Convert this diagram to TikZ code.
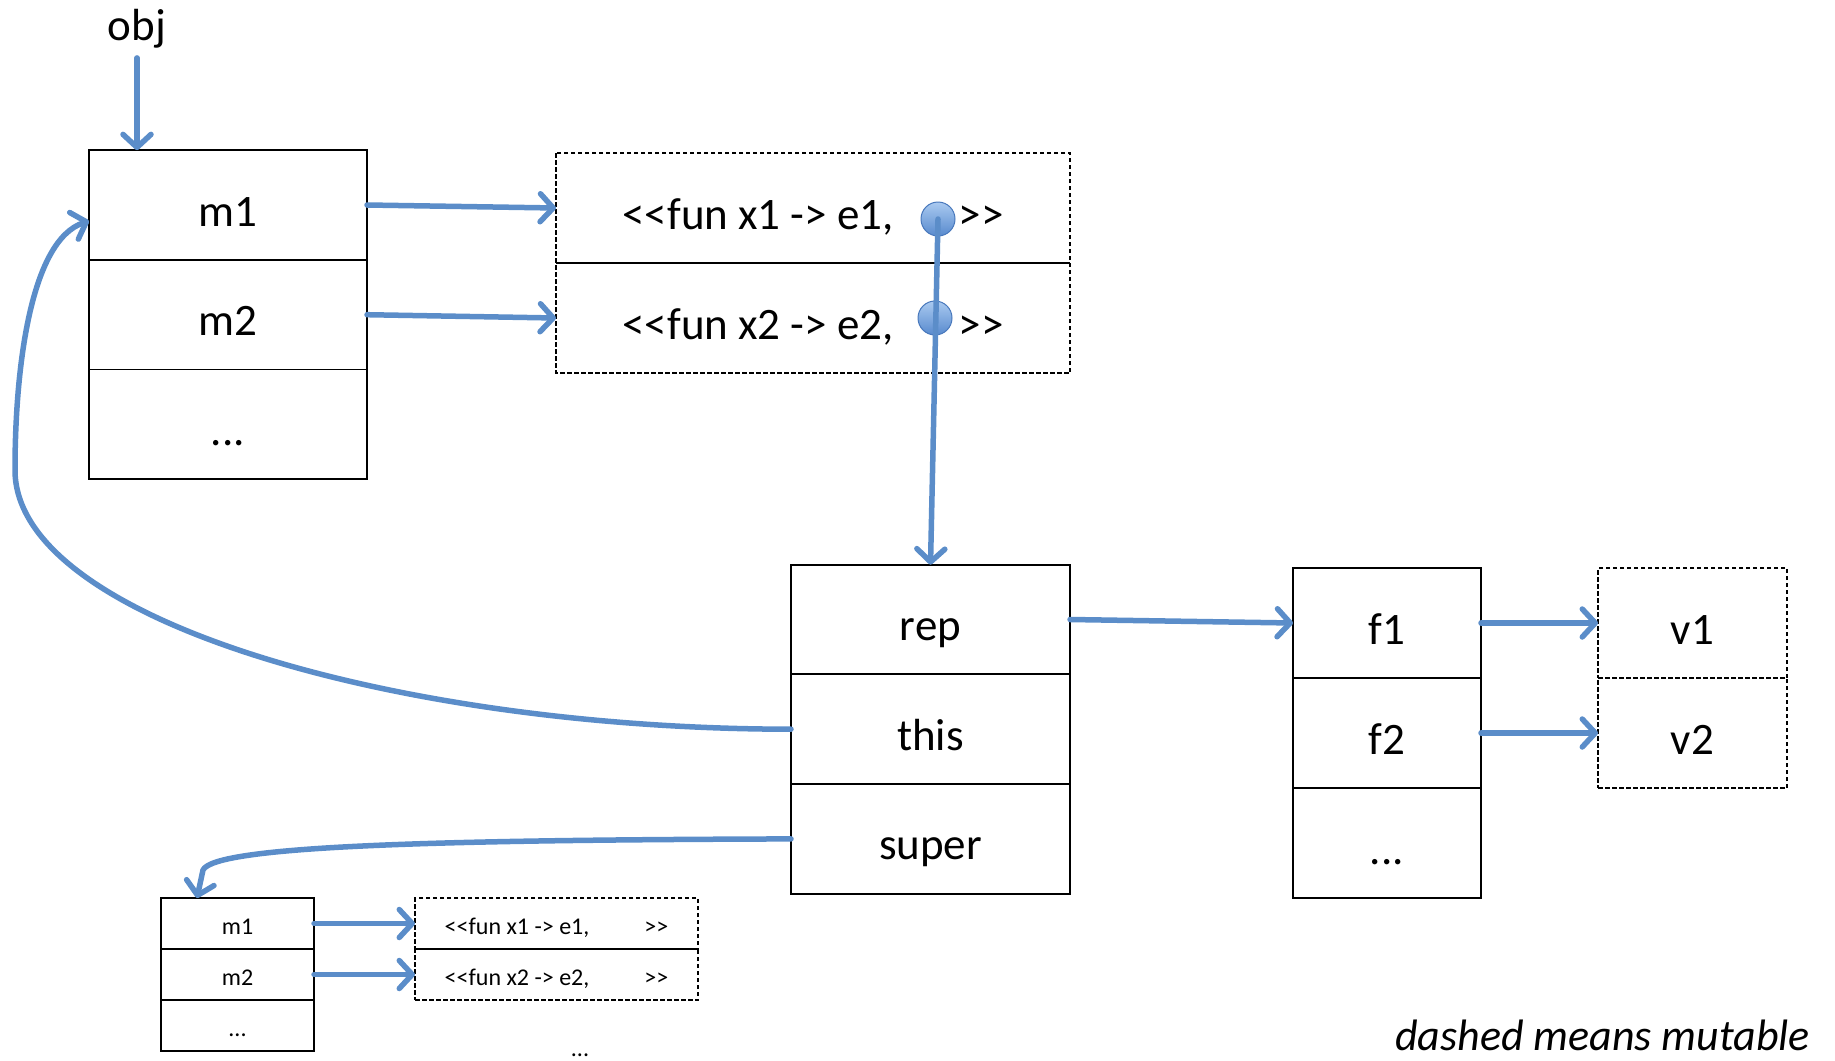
\documentclass[tikz,border=0pt]{standalone}
\usepackage{fontspec}
\setmainfont{Carlito}
\usetikzlibrary{arrows.meta}
\definecolor{linkblue}{RGB}{91,141,201}
\definecolor{dottop}{RGB}{170,202,240}
\definecolor{dotbot}{RGB}{88,138,206}
\definecolor{dotrim}{RGB}{72,120,188}
\begin{document}
\begin{tikzpicture}[x=1pt,y=-1pt,
  bigtext/.style={font=\fontsize{45}{52}\selectfont, text height=42pt, text depth=0pt},
  smalltext/.style={font=\fontsize{24}{28}\selectfont, text height=22pt, text depth=0pt},
  cell/.style={inner sep=0pt, outer sep=0pt, line width=1.8pt},
  solidcell/.style={cell, draw},
  mutcell/.style={cell, draw, dash pattern=on 4.5pt off 2.5pt, line width=1.6pt},
  bigA/.style={minimum width=278pt, minimum height=109.7pt, bigtext},
  bigB/.style={minimum width=514pt, minimum height=110pt, bigtext},
  bigC/.style={minimum width=279pt, minimum height=109.7pt, bigtext},
  bigD/.style={minimum width=188pt, minimum height=110pt, bigtext},
  bigE/.style={minimum width=189pt, minimum height=110pt, bigtext},
  smallF/.style={minimum width=153pt, minimum height=51pt, smalltext},
  smallG/.style={minimum width=283pt, minimum height=51pt, smalltext},
  link/.style={draw=linkblue, line width=5.5pt, line cap=round, line join=round,
    -{Straight Barb[length=13pt,width=28pt,round]}},
  valdot/.style={circle, minimum size=34pt, inner sep=0pt, top color=dottop, bottom color=dotbot, draw=dotrim, line width=1pt},
]
\useasboundingbox (0,0) rectangle (1835,1060);

% label
\node[font=\fontsize{45}{52}\selectfont, anchor=base, inner sep=2pt] (obj) at (137,40) {obj};

% object method table
\node[solidcell, bigA] (a1) at (228,205) {m1};
\node[solidcell, bigA] (a2) at (228,314.7) {m2};
\node[solidcell, bigA] (a3) at (228,424.4) {...};

% closures (mutable)
\node[cell, bigB] (b1) at (813,208) {<{}<fun x1 -{}> e1,\hspace{65pt}>{}>};
\node[cell, bigB] (b2) at (813,318) {<{}<fun x2 -{}> e2,\hspace{65pt}>{}>};
\draw[line width=1.6pt, dash pattern=on 4.5pt off 2.5pt] (b1.north west) rectangle (b2.south east);
\draw[line width=1.8pt] (b1.south west) -- (b1.south east);

% self record
\node[solidcell, bigC] (c1) at (930.5,619.5) {rep};
\node[solidcell, bigC] (c2) at (930.5,729.2) {this};
\node[solidcell, bigC] (c3) at (930.5,838.9) {super};

% fields
\node[solidcell, bigD] (d1) at (1387,623) {f1};
\node[solidcell, bigD] (d2) at (1387,733) {f2};
\node[solidcell, bigD] (d3) at (1387,843) {...};

% values (mutable)
\node[mutcell, bigE] (e1) at (1692.5,623) {v1};
\node[mutcell, bigE] (e2) at (1692.5,733) {v2};

% super method table
\node[solidcell, smallF] (s1) at (237.5,923.5) {m1};
\node[solidcell, smallF] (s2) at (237.5,974.5) {m2};
\node[solidcell, smallF] (s3) at (237.5,1025.5) {...};

\node[mutcell, smallG] (t1) at (556.5,923.5) {<{}<fun x1 -{}> e1,\hspace{55pt}>{}>};
\node[mutcell, smallG] (t2) at (556.5,974.5) {<{}<fun x2 -{}> e2,\hspace{55pt}>{}>};
\node[font=\fontsize{24}{28}\selectfont, anchor=base, inner sep=0pt] (more) at (580,1056) {...};

% legend
\node[font=\fontsize{44}{50}\selectfont\itshape, anchor=base east, inner sep=0pt] (legend) at (1810,1050) {dashed means mutable};

% closure environment pointers
\node[valdot] (dot1) at (938,219) {};
\node[valdot] (dot2) at (935,318) {};

% connectors
\draw[link, shorten <=8pt] (obj.south) -- (obj.south |- a1.north);
\draw[link] (a1.east) -- (b1.west);
\draw[link] (a2.east) -- (b2.west);
\draw[link] (dot1.center) -- (c1.north);
\draw[link] (c1.east) -- (d1.west);
\draw[link] (d1.east) -- (e1.west);
\draw[link] (d2.east) -- (e2.west);
\draw[link] (c2.west) .. controls (400,729) and (15,620) .. (15,470)
  .. controls (15,370) and (30,240) .. ([yshift=-16pt]a1.west);
\draw[link] (c3.west) .. controls (450,840) and (215,845) .. (203,870)
  -- ([xshift=36pt]s1.north west);
\draw[link] (s1.east) -- (t1.west);
\draw[link] (s2.east) -- (t2.west);
\end{tikzpicture}
\end{document}
